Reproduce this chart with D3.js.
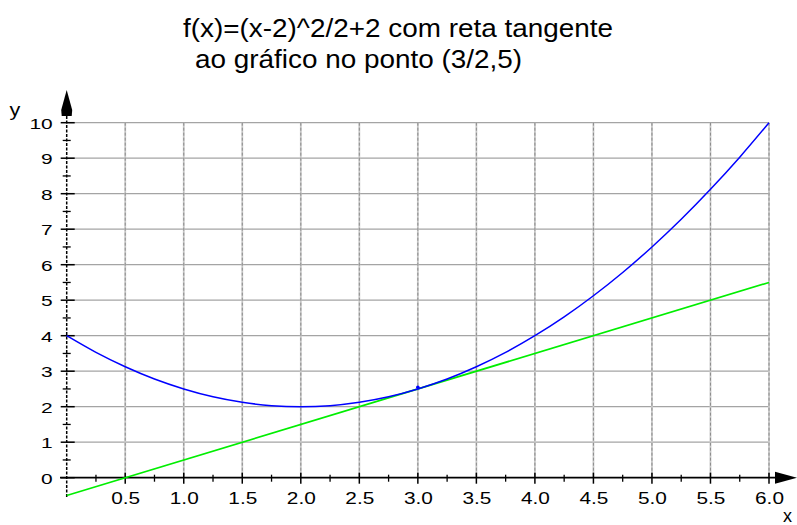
<!DOCTYPE html>
<html>
<head>
<meta charset="utf-8">
<script src="https://cdn.jsdelivr.net/npm/d3@7"></script>
<style>
  html, body { margin: 0; padding: 0; background: #fff; }
  svg { display: block; }
  text { font-family: "Liberation Sans", Arial, sans-serif; fill: #000; }
</style>
</head>
<body>
<svg id="chart" width="797" height="525"></svg>
<script>
// Title lines
const titleLines = ["f(x)=(x-2)^2/2+2 com reta tangente", "ao gráfico no ponto (3/2,5)"];

// Tick values
const xMajorTicks = [0.5, 1, 1.5, 2, 2.5, 3, 3.5, 4, 4.5, 5, 5.5, 6];
const xMinorTicks = [0.25, 0.75, 1.25, 1.75, 2.25, 2.75, 3.25, 3.75, 4.25, 4.75, 5.25, 5.75];
const yMajorTicks = [0, 1, 2, 3, 4, 5, 6, 7, 8, 9, 10];
const yMinorTicks = [0.5, 1.5, 2.5, 3.5, 4.5, 5.5, 6.5, 7.5, 8.5, 9.5];

// Curve f(x) sampled values
const curveX = [0, 0.25, 0.5, 0.75, 1, 1.25, 1.5, 1.75, 2, 2.25, 2.5, 2.75, 3, 3.25, 3.5, 3.75, 4, 4.25, 4.5, 4.75, 5, 5.25, 5.5, 5.75, 6];
const curveY = [4, 3.53, 3.125, 2.78, 2.5, 2.28, 2.125, 2.03, 2, 2.03, 2.125, 2.28, 2.5, 2.78, 3.125, 3.53, 4, 4.53, 5.125, 5.78, 6.5, 7.28, 8.125, 9.03, 10];

// Tangent line end points
const tangentX = [0, 6];
const tangentY = [-0.5, 5.5];

// Point of tangency marker
const pointX = [3];
const pointY = [2.55];

const svg = d3.select("#chart");

const x = d3.scaleLinear().domain([0, 6]).range([66.7, 769]);
const y = d3.scaleLinear().domain([0, 10]).range([477.7, 122.7]);

// Stretch a label horizontally, keeping its anchor
function widen(sel, factor) {
  sel.each(function () {
    const w = this.getComputedTextLength();
    d3.select(this).attr("textLength", w * factor).attr("lengthAdjust", "spacingAndGlyphs");
  });
}

// Title
svg.append("text")
  .attr("x", 183).attr("y", 37)
  .attr("font-size", 25)
  .attr("textLength", 430).attr("lengthAdjust", "spacingAndGlyphs")
  .text(titleLines[0]);
svg.append("text")
  .attr("x", 195).attr("y", 68)
  .attr("font-size", 25)
  .attr("textLength", 327).attr("lengthAdjust", "spacingAndGlyphs")
  .text(titleLines[1]);

// Grid
const grid = svg.append("g");
grid.selectAll("line.h").data(yMajorTicks.filter(d => d > 0)).join("line")
  .attr("x1", x(0)).attr("x2", x(6))
  .attr("y1", d => y(d)).attr("y2", d => y(d))
  .attr("stroke", "#a4a4a4").attr("stroke-width", 1.3);
grid.selectAll("line.vbase").data(xMajorTicks).join("line")
  .attr("x1", d => x(d)).attr("x2", d => x(d))
  .attr("y1", y(10)).attr("y2", y(0))
  .attr("stroke", "#c8c8c8").attr("stroke-width", 1.8);
grid.selectAll("line.vdash").data(xMajorTicks).join("line")
  .attr("x1", d => x(d)).attr("x2", d => x(d))
  .attr("y1", y(10)).attr("y2", y(0))
  .attr("stroke", "#8c8c8c").attr("stroke-width", 1)
  .attr("stroke-dasharray", "3,2");

// Axes with labels
const yAxis = d3.axisLeft(y).tickValues(yMajorTicks).tickSize(0).tickPadding(14)
  .tickFormat(d3.format("d"));
const gy = svg.append("g").attr("transform", `translate(${x(0)},0)`).call(yAxis);
gy.select(".domain").remove();
gy.selectAll("text").attr("font-size", 15.5).attr("font-family", "Liberation Sans, Arial, sans-serif")
  .attr("dy", "0.36em").call(widen, 1.35);

const xAxis = d3.axisBottom(x).tickValues(xMajorTicks).tickSize(0).tickPadding(15)
  .tickFormat(d3.format(".1f"));
const gx = svg.append("g").attr("transform", `translate(0,${y(0)})`).call(xAxis);
gx.select(".domain").remove();
gx.selectAll("text").attr("font-size", 16).attr("font-family", "Liberation Sans, Arial, sans-serif")
  .call(widen, 1.3);

// X axis line, ticks and arrow
const axisG = svg.append("g").attr("stroke", "#000");
axisG.append("line")
  .attr("x1", 60).attr("x2", 780)
  .attr("y1", y(0)).attr("y2", y(0)).attr("stroke-width", 1.8);
axisG.selectAll("line.xmaj").data(xMajorTicks).join("line")
  .attr("x1", d => x(d)).attr("x2", d => x(d))
  .attr("y1", y(0) - 5).attr("y2", y(0) + 6).attr("stroke-width", 1.5);
axisG.selectAll("line.xmin").data(xMinorTicks).join("line")
  .attr("x1", d => x(d)).attr("x2", d => x(d))
  .attr("y1", y(0) - 3).attr("y2", y(0) + 4).attr("stroke-width", 1.3);
svg.append("path")
  .attr("d", `M775,${y(0) - 6} L797,${y(0)} L775,${y(0) + 6} Z`)
  .attr("fill", "#000");

// Y axis line, ticks and arrow
axisG.append("line")
  .attr("x1", x(0)).attr("x2", x(0))
  .attr("y1", 497).attr("y2", 112).attr("stroke-width", 1.5)
  .attr("stroke-dasharray", "3,1.5");
axisG.selectAll("line.ymaj").data(yMajorTicks).join("line")
  .attr("x1", x(0) - 6).attr("x2", x(0) + 8)
  .attr("y1", d => y(d)).attr("y2", d => y(d)).attr("stroke-width", 1.5);
axisG.selectAll("line.ymin").data(yMinorTicks).join("line")
  .attr("x1", x(0) - 4).attr("x2", x(0) + 4)
  .attr("y1", d => y(d)).attr("y2", d => y(d)).attr("stroke-width", 1.3);
svg.append("path")
  .attr("d", `M${x(0)},90 L${x(0) + 5.5},110 L${x(0) + 5},116 L${x(0) - 5},116 L${x(0) - 5.5},110 Z`)
  .attr("fill", "#000");

// Axis names
svg.append("text").attr("x", 10).attr("y", 116).attr("font-size", 18)
  .attr("transform", "translate(-3,0) scale(1.2,1) translate(0.5,0)").text("y");
svg.append("text").attr("x", 783).attr("y", 522).attr("font-size", 18).text("x");

// Tangent line
const tangentLine = d3.line().x(d => x(d[0])).y(d => y(d[1]));
svg.append("path")
  .attr("d", tangentLine(d3.zip(tangentX, tangentY)))
  .attr("fill", "none").attr("stroke", "#00ee00").attr("stroke-width", 1.7);

// Curve
const curve = d3.line().x(d => x(d[0])).y(d => y(d[1])).curve(d3.curveMonotoneX);
svg.append("path")
  .attr("d", curve(d3.zip(curveX, curveY)))
  .attr("fill", "none").attr("stroke", "#0000ff").attr("stroke-width", 1.5);

// Tangency point
svg.selectAll("circle.pt").data(d3.zip(pointX, pointY)).join("circle")
  .attr("cx", d => x(d[0])).attr("cy", d => y(d[1])).attr("r", 1.8)
  .attr("fill", "#0000ff");
</script>
</body>
</html>
